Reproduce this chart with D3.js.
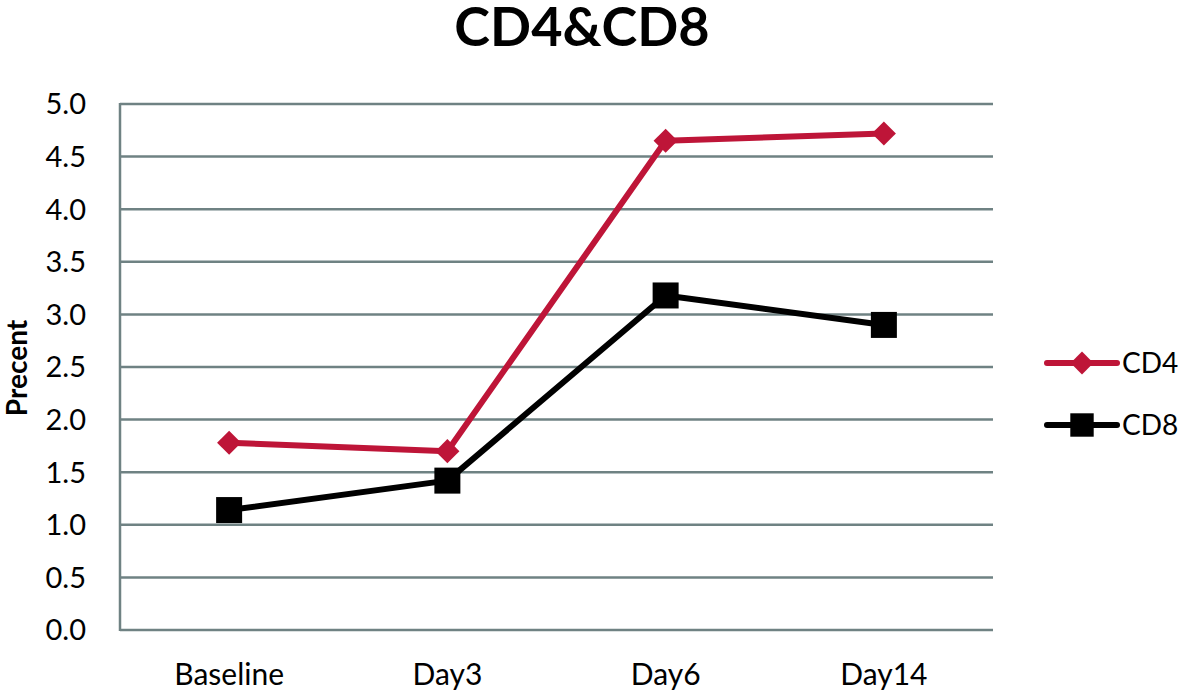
<!DOCTYPE html>
<html>
<head>
<meta charset="utf-8">
<script src="https://cdn.jsdelivr.net/npm/d3@7"></script>
<style>
  body { margin: 0; background: #fff; }
  text { font-family: Lato, "Open Sans", sans-serif; }
</style>
</head>
<body>
<svg id="chart"></svg>
<script>
// Data
const categories = ['Baseline', 'Day3', 'Day6', 'Day14'];
const cd4 = [1.78, 1.70, 4.65, 4.72];
const cd8 = [1.14, 1.42, 3.18, 2.90];
const yTicks = [0, 0.5, 1, 1.5, 2, 2.5, 3, 3.5, 4, 4.5, 5];

const width = 1181, height = 693;
const margin = { top: 104, right: 188, bottom: 63, left: 120 };

const svg = d3.select('#chart')
    .attr('width', width)
    .attr('height', height);

const x = d3.scaleBand()
    .domain(categories)
    .range([margin.left, width - margin.right]);

const y = d3.scaleLinear()
    .domain([0, 5])
    .range([height - margin.bottom, margin.top]);

const gridColor = '#6f8283';

// Gridlines
svg.append('g')
    .selectAll('line')
    .data(yTicks)
    .join('line')
    .attr('x1', margin.left)
    .attr('x2', width - margin.right)
    .attr('y1', d => y(d))
    .attr('y2', d => y(d))
    .attr('stroke', gridColor)
    .attr('stroke-width', 2.5);

// Y axis line
svg.append('line')
    .attr('x1', margin.left).attr('x2', margin.left)
    .attr('y1', y(5) - 1).attr('y2', y(0) + 1)
    .attr('stroke', gridColor)
    .attr('stroke-width', 2.5);

// Y tick labels
svg.append('g')
    .selectAll('text')
    .data(yTicks)
    .join('text')
    .attr('x', 86)
    .attr('y', d => y(d))
    .attr('dy', '0.36em')
    .attr('text-anchor', 'end')
    .attr('font-size', 29)
    .text(d => d.toFixed(1));

// X labels
svg.append('g')
    .selectAll('text')
    .data(categories)
    .join('text')
    .attr('x', d => x(d) + x.bandwidth() / 2)
    .attr('y', 685)
    .attr('text-anchor', 'middle')
    .attr('font-size', 30)
    .text(d => d);

// Title
svg.append('text')
    .attr('x', 582)
    .attr('y', 46)
    .attr('text-anchor', 'middle')
    .attr('font-size', 54)
    .attr('font-weight', 'bold')
    .text('CD4&CD8');

// Y axis title
svg.append('text')
    .attr('transform', 'translate(27,368) rotate(-90)')
    .attr('text-anchor', 'middle')
    .attr('font-size', 28)
    .attr('font-weight', 'bold')
    .text('Precent');

const line = d3.line()
    .x((d, i) => x(categories[i]) + x.bandwidth() / 2)
    .y(d => y(d));

const series = [
    { name: 'CD4', values: cd4, color: '#be1538', marker: 'diamond' },
    { name: 'CD8', values: cd8, color: '#000000', marker: 'square' }
];

function drawMarker(g, s, cx, cy, scale = 1) {
    if (s.marker === 'diamond') {
        g.append('path')
            .attr('d', d3.symbol().type(d3.symbolSquare).size(290 * scale)())
            .attr('transform', `translate(${cx},${cy}) rotate(45)`)
            .attr('fill', s.color);
    } else {
        const sz = 26 * scale;
        g.append('rect')
            .attr('x', cx - sz / 2).attr('y', cy - sz / 2)
            .attr('width', sz).attr('height', sz)
            .attr('fill', s.color);
    }
}

series.forEach(s => {
    const g = svg.append('g');
    g.append('path')
        .datum(s.values)
        .attr('d', line)
        .attr('fill', 'none')
        .attr('stroke', s.color)
        .attr('stroke-width', 6)
        .attr('stroke-linejoin', 'round');
    s.values.forEach((v, i) => {
        drawMarker(g, s, x(categories[i]) + x.bandwidth() / 2, y(v));
    });
});

// Legend
const legendY = [363, 425];
series.forEach((s, i) => {
    const g = svg.append('g');
    g.append('line')
        .attr('x1', 1047).attr('x2', 1117)
        .attr('y1', legendY[i]).attr('y2', legendY[i])
        .attr('stroke', s.color)
        .attr('stroke-width', 6)
        .attr('stroke-linecap', 'round');
    drawMarker(g, s, 1082, legendY[i], 0.9);
    g.append('text')
        .attr('x', 1122)
        .attr('y', legendY[i])
        .attr('dy', '0.36em')
        .attr('font-size', 28)
        .text(s.name);
});
</script>
</body>
</html>
